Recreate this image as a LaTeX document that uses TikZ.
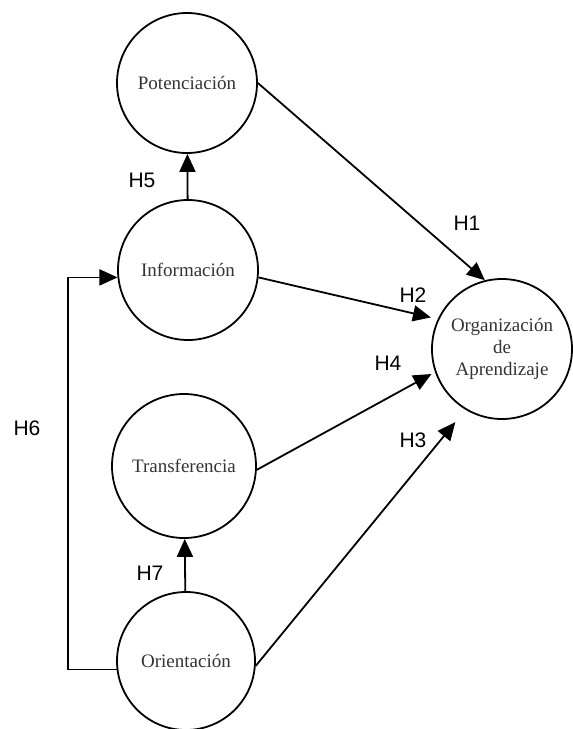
\documentclass[tikz,border=0pt]{standalone}
\usepackage{fontspec}
\setmainfont{Liberation Serif}
\setsansfont{Liberation Sans}
\usetikzlibrary{arrows.meta}

\begin{document}
\begin{tikzpicture}
  [x=0.5pt,y=-0.5pt,
   var/.style={circle,draw,line width=0.9pt,minimum size=70pt,inner sep=0pt,align=center,
     text=black!80,font=\fontsize{9.5}{11}\selectfont},
   hyp/.style={inner sep=0pt,font=\sffamily\fontsize{10.5}{12}\selectfont},
   arr/.style={line width=0.9pt,-{Triangle[length=9pt,width=8pt]}}]
  \useasboundingbox (0,0) rectangle (573,729);

  \node[var] (pot) at (187,83) {Potenciación};
  \node[var] (inf) at (188,270) {Información};
  \node[var,minimum size=72pt] (tra) at (184,466) {Transferencia};
  \node[var,minimum size=69pt] (ori) at (186,661) {Orientación};
  \node[var] (org) at (502,349) {Organización\\de\\Aprendizaje};

  \node[hyp] (h1) at (467,223) {H1};
  \node[hyp] (h2) at (413,295) {H2};
  \node[hyp] (h3) at (413,440) {H3};
  \node[hyp] (h4) at (388,363) {H4};
  \node[hyp] (h5) at (142,180) {H5};
  \node[hyp] (h6) at (27,428) {H6};
  \node[hyp] (h7) at (150,573) {H7};

  \draw[arr] (pot.east) -- (org.104);
  \draw[arr,shorten >=3.5pt] (inf.-6) -- (org.155);
  \draw[arr,shorten >=2pt] (tra.-3) -- (org.199);
  \draw[arr,shorten >=8pt] (ori.-4) -- (org.239);

  \draw[arr] (inf) -- (pot);
  \draw[arr] (ori) -- (tra);
  \draw[arr] (ori.187) -| (68,400) |- (inf.186);
\end{tikzpicture}
\end{document}
